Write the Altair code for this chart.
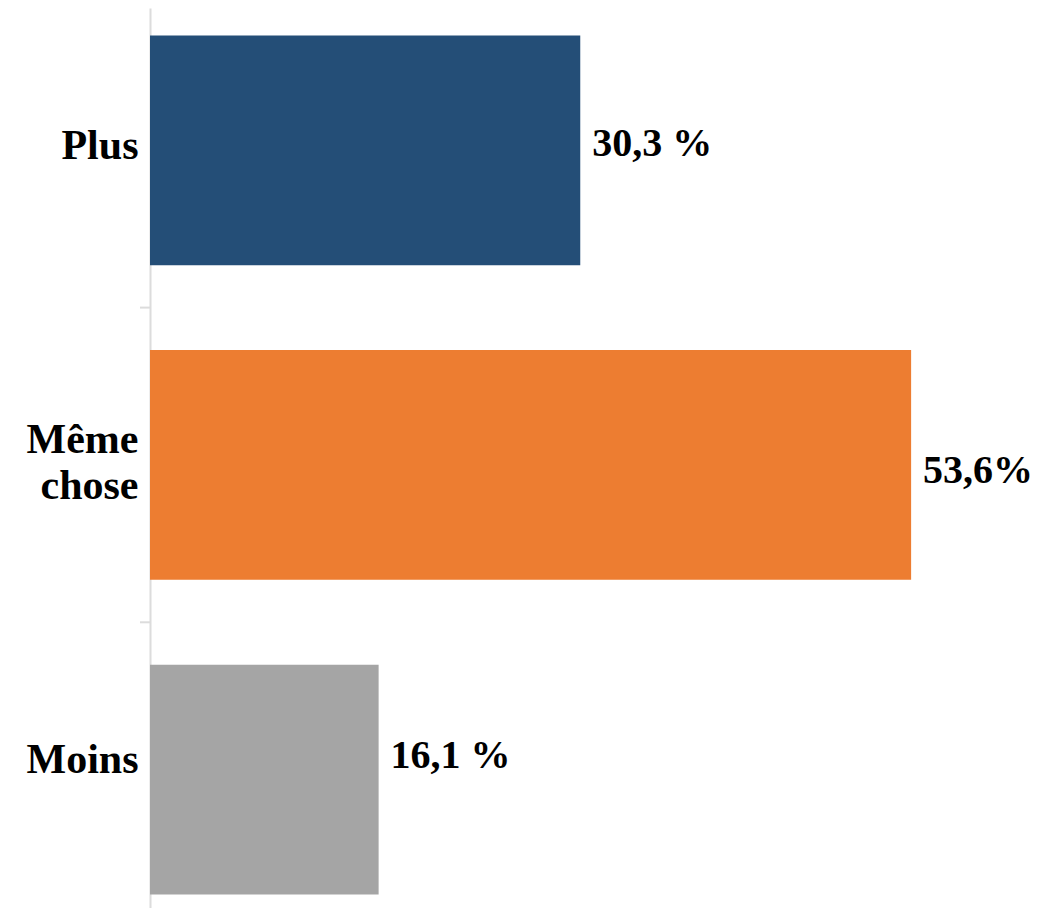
import altair as alt
import pandas as pd

categories = ["Plus", "Même chose", "Moins"]
values = [30.3, 53.6, 16.1]
labels = ["30,3 %", "53,6%", "16,1 %"]
colors = ["#244e77", "#ed7d31", "#a5a5a5"]
boundaries = ["Même chose", "Moins"]

df = pd.DataFrame({"cat": categories, "val": values, "lab": labels, "col": colors})
bdf = pd.DataFrame({"cat": boundaries})

FONT = "Liberation Serif"

yscale = alt.Scale(domain=categories, paddingInner=0.27, paddingOuter=0.065, align=0.67)
xscale = alt.Scale(domain=[0, 60])

label_offset = {
    "condition": [
        {"test": "datum.value == 'Même chose'", "value": -25},
        {"test": "datum.value == 'Moins'", "value": -20},
    ],
    "value": -4,
}

bars = alt.Chart(df).mark_bar().encode(
    y=alt.Y("cat:N", scale=yscale, sort=categories, title=None,
            axis=alt.Axis(ticks=False, domainColor="#dcdcdc", domainWidth=2,
                          labelFont=FONT, labelFontSize=42, labelFontWeight="bold",
                          labelColor="black", labelPadding=12, labelLimit=300,
                          labelLineHeight=46, minExtent=142, maxExtent=142,
                          labelOffset=label_offset,
                          labelExpr="datum.value == 'Même chose' ? ['Même', 'chose'] : datum.value")),
    x=alt.X("val:Q", scale=xscale, axis=None),
    color=alt.Color("col:N", scale=None),
)

text_shift = {"Plus": -6, "Même chose": 6, "Moins": -24}
text_layers = []
for cat, shift in text_shift.items():
    text_layers.append(
        alt.Chart(df).transform_filter(alt.datum.cat == cat).mark_text(
            align="left", baseline="middle", dx=12, dy=shift, font=FONT, fontSize=40,
            fontWeight="bold", color="black"
        ).encode(
            y=alt.Y("cat:N", scale=yscale, sort=categories),
            x=alt.X("val:Q", scale=xscale),
            text="lab:N",
        )
    )

ticks = alt.Chart(bdf).mark_rule(color="#dcdcdc", strokeWidth=2, yOffset=-42.5).encode(
    y=alt.Y("cat:N", scale=yscale, sort=categories, bandPosition=0),
    x=alt.value(-10),
    x2=alt.value(0),
)

chart = alt.layer(bars, ticks, *text_layers).properties(
    width=852, height=900, background="white",
    padding={"left": 0, "top": 0, "right": 0, "bottom": 0}
).configure_view(stroke=None)

chart.save("out.html", embed_options={"renderer": "svg", "actions": False})
